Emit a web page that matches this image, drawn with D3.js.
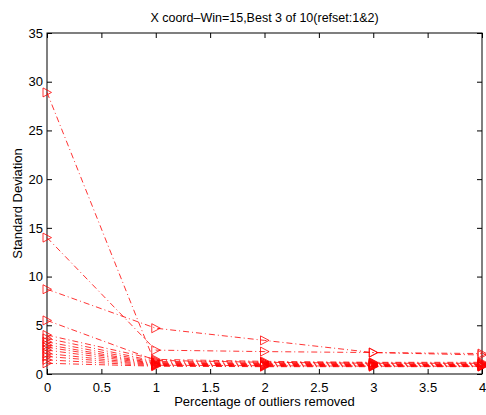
<!DOCTYPE html>
<html>
<head>
<meta charset="utf-8">
<script src="https://cdn.jsdelivr.net/npm/d3@7"></script>
<style>
html,body{margin:0;padding:0;background:#fff;}
svg{display:block;font-family:"Liberation Sans",Arial,sans-serif;}
</style>
</head>
<body>
<svg id="chart" width="486" height="415"></svg>
<script>
const titleText = "X coord\u2013Win=15,Best 3 of 10(refset:1&2)";
const xLabelText = "Percentage of outliers removed";
const yLabelText = "Standard Deviation";
const xValues = [0, 1, 2, 3, 4];
const xTicks = [0, 0.5, 1, 1.5, 2, 2.5, 3, 3.5, 4];
const yTicks = [0, 5, 10, 15, 20, 25, 30, 35];
const s1 = [28.9, 0.9, 0.85, 0.8, 0.8];
const s2 = [14.0, 2.45, 2.3, 2.2, 2.1];
const s3 = [8.7, 4.7, 3.45, 2.2, 1.95];
const s4 = [5.5, 1.4, 1.2, 1.1, 1.1];
const s5 = [4.0, 1.5, 1.3, 1.2, 1.2];
const s6 = [3.65, 1.3, 1.2, 1.15, 1.1];
const s7 = [3.3, 1.2, 1.1, 1.05, 1.0];
const s8 = [3.0, 1.1, 1.05, 1.0, 1.0];
const s9 = [2.75, 1.05, 1.0, 0.95, 0.95];
const s10 = [2.45, 1.0, 0.95, 0.9, 0.9];
const s11 = [2.1, 0.95, 0.9, 0.9, 0.85];
const s12 = [1.8, 0.9, 0.85, 0.85, 0.8];
const s13 = [1.45, 0.85, 0.8, 0.8, 0.8];
const s14 = [1.1, 0.8, 0.75, 0.75, 0.75];
const series = [s1, s2, s3, s4, s5, s6, s7, s8, s9, s10, s11, s12, s13, s14];

const svg = d3.select("#chart");
const L = 47, R = 482, T = 33, B = 374;
const x = d3.scaleLinear().domain([0, 4]).range([L, R]);
const y = d3.scaleLinear().domain([0, 35]).range([B, T]);

// box
svg.append("rect").attr("x", L).attr("y", T).attr("width", R - L).attr("height", B - T)
  .attr("fill", "none").attr("stroke", "#000").attr("stroke-width", 1);

const tickLen = 5;
const fs = 13;
// axes
const xAxisB = d3.axisBottom(x).tickValues(xTicks).tickSizeInner(-tickLen).tickSizeOuter(0).tickPadding(9).tickFormat(d3.format("~g"));
const gxb = svg.append("g").attr("transform", `translate(0,${B})`).call(xAxisB);
const xAxisT = d3.axisTop(x).tickValues(xTicks).tickSizeInner(-tickLen).tickSizeOuter(0).tickFormat("");
const gxt = svg.append("g").attr("transform", `translate(0,${T})`).call(xAxisT);
const yAxisL = d3.axisLeft(y).tickValues(yTicks).tickSizeInner(-tickLen).tickSizeOuter(0).tickPadding(4).tickFormat(d3.format("~g"));
const gyl = svg.append("g").attr("transform", `translate(${L},0)`).call(yAxisL);
const yAxisR = d3.axisRight(y).tickValues(yTicks).tickSizeInner(-tickLen).tickSizeOuter(0).tickFormat("");
const gyr = svg.append("g").attr("transform", `translate(${R},0)`).call(yAxisR);
[gxb, gxt, gyl, gyr].forEach(g => {
  g.select(".domain").remove();
  g.selectAll("line").attr("stroke", "#000");
  g.selectAll("text").attr("font-family", "Liberation Sans, Arial, sans-serif").attr("font-size", fs).attr("fill", "#000");
});

// lines
const line = d3.line().x((d, i) => x(xValues[i])).y(d => y(d));
const tri = "M-4,-4.5L4.5,0L-4,4.5Z";
series.forEach(s => {
  svg.append("path").datum(s).attr("d", line)
    .attr("fill", "none").attr("stroke", "#ff0000").attr("stroke-width", 0.8)
    .attr("stroke-dasharray", "6,3,1,3");
  svg.append("g").selectAll("path").data(s).join("path")
    .attr("transform", (d, i) => `translate(${x(xValues[i])},${y(d)})`)
    .attr("d", tri).attr("fill", "none").attr("stroke", "#ff0000").attr("stroke-width", 0.8);
});

// texts
svg.append("text").attr("x", (L + R) / 2).attr("y", 22).attr("text-anchor", "middle")
  .attr("font-size", 12.5).text(titleText);
svg.append("text").attr("x", (L + R) / 2).attr("y", 406).attr("text-anchor", "middle")
  .attr("font-size", fs).text(xLabelText);
svg.append("text").attr("transform", `translate(22,${(T + B) / 2}) rotate(-90)`).attr("text-anchor", "middle")
  .attr("font-size", fs).text(yLabelText);
</script>
</body>
</html>
